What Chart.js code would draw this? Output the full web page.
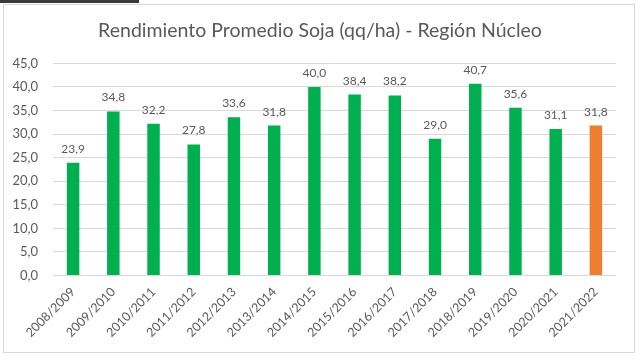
<!DOCTYPE html>
<html>
<head>
<meta charset="utf-8">
<script src="https://cdn.jsdelivr.net/npm/chart.js@4.4.1/dist/chart.umd.min.js"></script>
<style>
    html, body { margin: 0; padding: 0; background: #fff; }
    #wrap { position: relative; width: 640px; height: 361px; overflow: hidden; }
    #topbar { position: absolute; left: 0; top: 0; width: 139px; height: 3px; background: #3a3a3a; }
    #frame { position: absolute; left: 3px; top: 4px; width: 630px; height: 347px; border: 1px solid #d9d9d9; }
    canvas { position: absolute; left: 0; top: 0; }
</style>
</head>
<body>
<div id="wrap">
    <div id="topbar"></div>
    <div id="frame"></div>
    <canvas id="yieldChart" width="640" height="361"></canvas>
</div>
<script>
// Datos de la campaña
const campaigns = ['2008/2009', '2009/2010', '2010/2011', '2011/2012', '2012/2013', '2013/2014', '2014/2015',
    '2015/2016', '2016/2017', '2017/2018', '2018/2019', '2019/2020', '2020/2021', '2021/2022'];
const yields = [23.9, 34.8, 32.2, 27.8, 33.6, 31.8, 40.0, 38.4, 38.2, 29.0, 40.7, 35.6, 31.1, 31.8];
const barColors = ['#00b050', '#00b050', '#00b050', '#00b050', '#00b050', '#00b050', '#00b050',
    '#00b050', '#00b050', '#00b050', '#00b050', '#00b050', '#00b050', '#ed7d31'];

const fmt = v => v.toFixed(1).replace('.', ',');
const FONT = 'Lato, "Open Sans", sans-serif';

// Etiquetas de valor sobre cada barra
const valueLabels = {
    id: 'valueLabels',
    afterDatasetsDraw(chart) {
        const c = chart.ctx;
        const meta = chart.getDatasetMeta(0);
        c.save();
        c.font = '12px ' + FONT;
        c.fillStyle = '#595959';
        c.textAlign = 'center';
        c.textBaseline = 'alphabetic';
        meta.data.forEach((bar, i) => {
            c.fillText(fmt(yields[i]), bar.x, bar.y - 10);
        });
        c.restore();
    }
};

const ctx = document.getElementById('yieldChart').getContext('2d');
const yieldChart = new Chart(ctx, {
    type: 'bar',
    data: {
        labels: campaigns,
        datasets: [{
            data: yields,
            backgroundColor: barColors,
            borderWidth: 0,
            categoryPercentage: 0.31,
            barPercentage: 1
        }]
    },
    options: {
        responsive: false,
        animation: false,
        layout: { padding: 0 },
        plugins: {
            legend: { display: false },
            tooltip: { enabled: false },
            title: {
                display: true,
                text: 'Rendimiento Promedio Soja (qq/ha) - Región Núcleo',
                color: '#595959',
                font: { family: FONT, size: 19.5, weight: 'normal' },
                padding: { top: 19, bottom: 21 }
            }
        },
        scales: {
            x: {
                grid: { display: false, drawTicks: false },
                border: { display: false },
                ticks: {
                    color: '#595959',
                    font: { family: FONT, size: 12.5 },
                    maxRotation: 45,
                    minRotation: 45,
                    padding: 9
                },
                afterFit: scale => { scale.height = 85.5; }
            },
            y: {
                min: 0,
                max: 45,
                grid: { color: '#d9d9d9', drawTicks: false },
                border: { display: false },
                ticks: {
                    stepSize: 5,
                    color: '#595959',
                    font: { family: FONT, size: 13 },
                    padding: 15,
                    callback: v => fmt(v)
                },
                afterFit: scale => { scale.width = 53; }
            },
            // margen derecho vacío
            yRight: {
                position: 'right',
                grid: { display: false, drawTicks: false },
                border: { display: false },
                ticks: { display: false },
                afterFit: scale => { scale.width = 24; }
            }
        }
    },
    plugins: [valueLabels]
});
</script>
</body>
</html>
